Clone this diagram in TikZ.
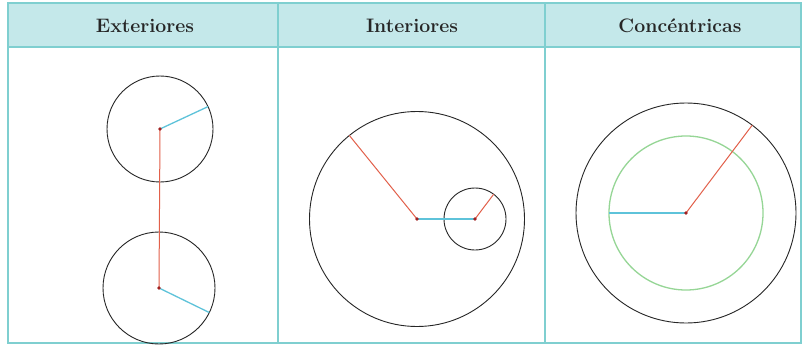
\documentclass[tikz,border=0pt]{standalone}
\definecolor{hdrfill}{HTML}{C4E8EA}
\definecolor{rule}{HTML}{7FCFD0}
\definecolor{rad}{HTML}{E2604A}
\definecolor{dist}{HTML}{5EC3DA}
\definecolor{ring}{HTML}{96D696}
\definecolor{dotc}{HTML}{A02020}
\tikzset{
  circ/.style={draw=black!85, line width=0.9pt},
  redline/.style={draw=rad, line width=1pt},
  blueline/.style={draw=dist, line width=1.3pt},
  dotmark/.style={fill=dotc},
  hdr/.style={font=\fontsize{19.5}{22}\selectfont\bfseries, text=black!85},
}
\begin{document}
\begin{tikzpicture}[x=1pt,y=-1pt]
\useasboundingbox (0,0) rectangle (802,350);
\fill[white] (0,0) rectangle (802,350);
% table
\fill[hdrfill] (8,3) rectangle (801,47);
\draw[rule, line width=1.2pt] (8,3) rectangle (801,343);
\draw[rule, line width=1.2pt] (8,47) -- (801,47);
\draw[rule, line width=1.2pt] (278,3) -- (278,343);
\draw[rule, line width=1.2pt] (545,3) -- (545,343);
\node[hdr] (h1) at (145,26) {Exteriores};
\node[hdr] (h2) at (412,26) {Interiores};
\node[hdr] (h3) at (680,26) {Concéntricas};
% Exteriores
\coordinate (A) at (160,129);
\coordinate (B) at (159,288);
\draw[circ] (A) circle[radius=53];
\draw[circ] (B) circle[radius=56];
\draw[redline] (A) -- (B);
\path (A) ++(-25:53) coordinate (Ae);
\path (B) ++(26:56) coordinate (Be);
\draw[blueline] (A) -- (Ae);
\draw[blueline] (B) -- (Be);
\fill[dotmark] (A) circle[radius=1.8];
\fill[dotmark] (B) circle[radius=1.8];
% Interiores
\coordinate (C) at (417,219);
\coordinate (D) at (475,219);
\draw[circ] (C) circle[radius=107.5];
\draw[circ] (D) circle[radius=31];
\path (C) ++(-129:107.5) coordinate (Ce);
\path (D) ++(-53:31) coordinate (De);
\draw[redline] (C) -- (Ce);
\draw[redline] (D) -- (De);
\draw[blueline] (C) -- (D);
\fill[dotmark] (C) circle[radius=1.8];
\fill[dotmark] (D) circle[radius=1.8];
% Concentricas
\coordinate (E) at (686,213);
\draw[circ] (E) circle[radius=110];
\draw[draw=ring, line width=1.3pt] (E) circle[radius=77];
\path (E) ++(180:77) coordinate (Eb);
\path (E) ++(-53:110) coordinate (Er);
\draw[blueline] (E) -- (Eb);
\draw[redline] (E) -- (Er);
\fill[dotmark] (E) circle[radius=1.8];
\end{tikzpicture}
\end{document}
